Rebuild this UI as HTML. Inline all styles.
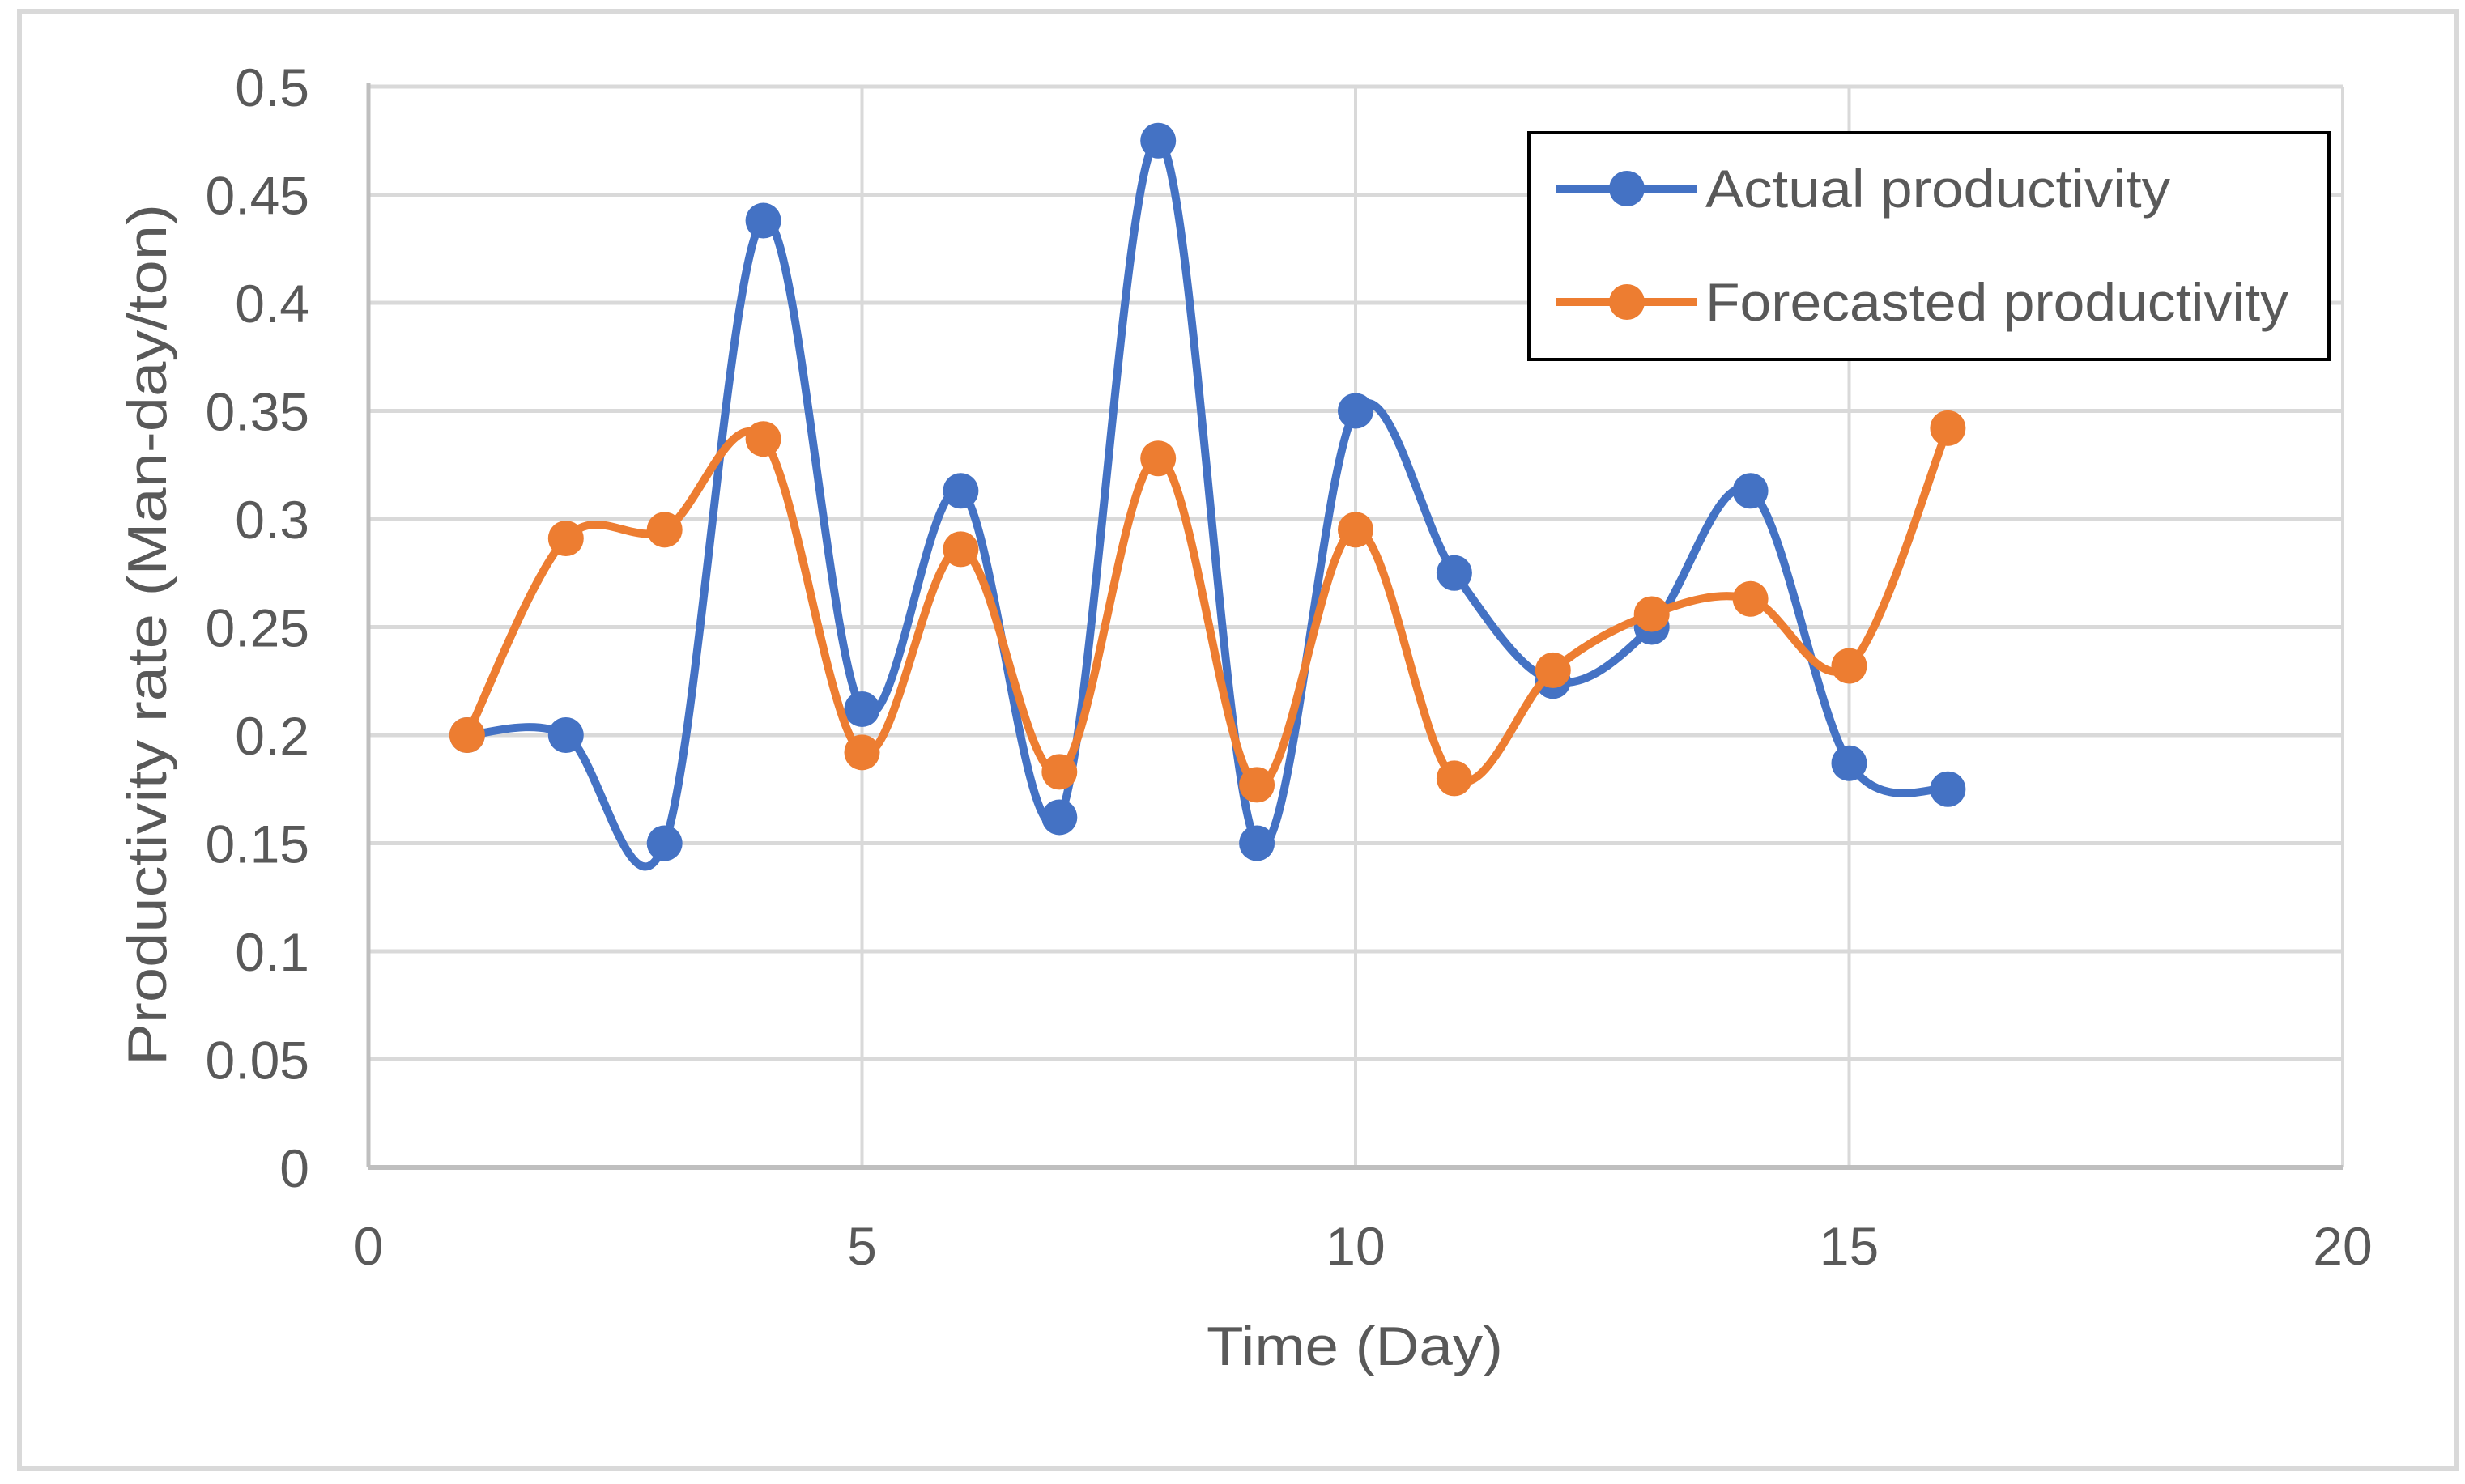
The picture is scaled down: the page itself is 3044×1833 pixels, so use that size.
<!DOCTYPE html>
<html><head><meta charset="utf-8"><style>
html,body{margin:0;padding:0;background:#fff}
svg{display:block}
text{font-family:"Liberation Sans",sans-serif;fill:#595959}
</style></head><body>
<svg id="chart" width="3044" height="1833" viewBox="0 0 3044 1833" xmlns="http://www.w3.org/2000/svg">
<rect x="24" y="14" width="3010" height="1800" fill="#fff" stroke="#D9D9D9" stroke-width="6"/>
<g id="grid"></g>
<g id="axes"></g>
<g id="series"></g>
<text transform="translate(205,784) rotate(-90)" text-anchor="middle" font-size="68" textLength="1064" lengthAdjust="spacingAndGlyphs">Productivity rate (Man-day/ton)</text>
<text x="1673" y="1686" text-anchor="middle" font-size="68" textLength="366" lengthAdjust="spacingAndGlyphs">Time (Day)</text>
<g>
<rect x="1888" y="164" width="988" height="280" fill="#fff" stroke="#000" stroke-width="4"/>
<g>
<line x1="1922" y1="233" x2="2096" y2="233" stroke="#4472C4" stroke-width="10"/>
<circle cx="2009" cy="233" r="22" fill="#4472C4"/>
<text x="2106" y="256" font-size="66" textLength="574" lengthAdjust="spacingAndGlyphs">Actual productivity</text>
</g>
<g>
<line x1="1922" y1="373" x2="2096" y2="373" stroke="#ED7D31" stroke-width="10"/>
<circle cx="2009" cy="373" r="22" fill="#ED7D31"/>
<text x="2106" y="396" font-size="66" textLength="720" lengthAdjust="spacingAndGlyphs">Forecasted productivity</text>
</g>
</g>
</svg>
<script>
const days = [1,2,3,4,5,6,7,8,9,10,11,12,13,14,15,16];
const actual = [0.2,0.2,0.15,0.438,0.212,0.313,0.162,0.475,0.15,0.35,0.275,0.225,0.25,0.313,0.187,0.175];
const forecast = [0.2,0.291,0.295,0.337,0.192,0.286,0.183,0.328,0.177,0.295,0.18,0.23,0.256,0.263,0.232,0.342];
const yTicks = [0,0.05,0.1,0.15,0.2,0.25,0.3,0.35,0.4,0.45,0.5];
const yTickLabels = ["0","0.05","0.1","0.15","0.2","0.25","0.3","0.35","0.4","0.45","0.5"];
const xTicks = [0,5,10,15,20];

const NS="http://www.w3.org/2000/svg";
const L=455,R=2893,T=107,B=1442;
const xs=v=>L+(v-0)/(20-0)*(R-L);
const ys=v=>B-(v-0)/(0.5-0)*(B-T);
function mk(tag,attrs,parent){const e=document.createElementNS(NS,tag);for(const k in attrs)e.setAttribute(k,attrs[k]);parent.appendChild(e);return e;}
const grid=document.getElementById('grid'),axes=document.getElementById('axes'),ser=document.getElementById('series');
yTicks.forEach((t,i)=>{
  if(t>0){const g=mk('line',{x1:L,x2:R,y1:ys(t),y2:ys(t),stroke:'#D9D9D9','stroke-width':5},grid);
  
  }
  const tx=mk('text',{x:382,y:ys(t)+24,'text-anchor':'end','font-size':66},axes);
  tx.textContent=yTickLabels[i];
  
  
});
xTicks.forEach(t=>{
  if(t>0){const g=mk('line',{x1:xs(t),x2:xs(t),y1:T,y2:B,stroke:'#D9D9D9','stroke-width':4},grid);
  
  }
  const tx=mk('text',{x:xs(t),y:1562,'text-anchor':'middle','font-size':66},axes);
  tx.textContent=String(t);
  
  
});
const ya=mk('line',{x1:L,x2:L,y1:T-4,y2:B,stroke:'#BFBFBF','stroke-width':5},axes);


const xa=mk('line',{x1:L,x2:R,y1:B,y2:B,stroke:'#BFBFBF','stroke-width':6},axes);



function smooth(pts){
  let d=`M${pts[0][0]},${pts[0][1]}`;
  for(let i=0;i<pts.length-1;i++){
    const p0=pts[Math.max(0,i-1)],p1=pts[i],p2=pts[i+1],p3=pts[Math.min(pts.length-1,i+2)];
    const c1=[p1[0]+(p2[0]-p0[0])/6,p1[1]+(p2[1]-p0[1])/6];
    const c2=[p2[0]-(p3[0]-p1[0])/6,p2[1]-(p3[1]-p1[1])/6];
    d+=` C${c1[0]},${c1[1]} ${c2[0]},${c2[1]} ${p2[0]},${p2[1]}`;
  }
  return d;
}
function drawSeries(vals,color,name){
  const pts=days.map((d,i)=>[xs(d),ys(vals[i])]);
  const p=mk('path',{d:smooth(pts),fill:'none',stroke:color,'stroke-width':10,'stroke-linejoin':'round'},ser);
  
  
  pts.forEach(pt=>{
    const c=mk('circle',{cx:pt[0],cy:pt[1],r:22,fill:color},ser);
    
    
  });
}
drawSeries(actual,'#4472C4','actual');
drawSeries(forecast,'#ED7D31','forecast');
</script>
</body></html>
